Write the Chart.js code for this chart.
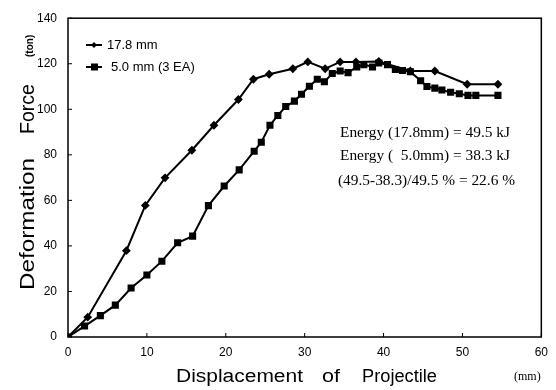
<!DOCTYPE html>
<html>
<head>
<meta charset="utf-8">
<script src="https://cdn.jsdelivr.net/npm/chart.js@4.4.1/dist/chart.umd.min.js"></script>
<style>
    html, body { margin: 0; padding: 0; background: #fff; }
    #wrap { width: 556px; height: 390px; }
</style>
</head>
<body>
<div id="wrap"><canvas id="chart" width="556" height="390"></canvas></div>
<script>
// 17.8 mm plate
const dispThick = [0, 2.5, 7.4, 9.8, 12.3, 15.7, 18.5, 21.6, 23.5, 25.5, 28.5, 30.4, 32.6, 34.5, 36.5, 39.4, 43.4, 46.5, 50.6, 54.5];
const forceThick = [0, 8.7, 37.9, 57.8, 69.9, 82, 93, 104.3, 113.2, 115.4, 117.8, 120.8, 117.8, 120.8, 120.8, 121, 116.8, 116.8, 111, 111];

// 5.0 mm (3 EA)
const dispThin = [0, 2.1, 4.1, 6.0, 8.0, 10.0, 11.9, 13.9, 15.8, 17.8, 19.8, 21.7, 23.6, 24.5, 25.6, 26.6, 27.6, 28.7, 29.6, 30.6, 31.6, 32.5, 33.5, 34.5, 35.5, 36.6, 37.5, 38.6, 39.4, 40.5, 41.5, 42.4, 43.4, 44.7, 45.5, 46.5, 47.4, 48.5, 49.6, 50.7, 51.7, 54.5];
const forceThin = [0, 4.8, 9.4, 14, 21.5, 27.2, 33.3, 41.4, 44.3, 57.7, 66.3, 73.4, 81.6, 85.5, 93, 97.3, 101.2, 103.6, 106.6, 110.1, 113.2, 112.1, 115.7, 116.8, 116.1, 118.6, 119.6, 118.6, 120.3, 119.6, 117.5, 117, 116.5, 112.5, 110, 109.3, 108.5, 107.5, 106.8, 106.1, 106.1, 106.1];

const seriesNames = ['17.8 mm', '5.0 mm (3 EA)'];
const xTicks = [0, 10, 20, 30, 40, 50, 60];
const yTicks = [0, 20, 40, 60, 80, 100, 120, 140];
const notes = ['Energy (17.8mm) = 49.5 kJ', 'Energy (  5.0mm) = 38.3 kJ', '(49.5-38.3)/49.5 % = 22.6 %'];

const toPoints = (xs, ys) => xs.map((x, i) => ({ x: x, y: ys[i] }));

const sans = '"Liberation Sans", Arial, sans-serif';
const serif = '"Liberation Serif", "Times New Roman", serif';

// draw text starting at x, stretched/squeezed to a given width
function fitText(ctx, text, x, y, width) {
    const w = ctx.measureText(text).width;
    ctx.save();
    ctx.translate(x, y);
    ctx.scale(width / w, 1);
    ctx.fillText(text, 0, 0);
    ctx.restore();
}

// frame, inward ticks, titles, legend and note text
const decorations = {
    id: 'decorations',
    afterDraw(chart) {
        const { ctx, chartArea: a, scales } = chart;
        ctx.save();
        ctx.strokeStyle = '#000';
        ctx.lineWidth = 1.5;
        ctx.strokeRect(a.left, a.top, a.right - a.left, a.bottom - a.top);

        ctx.lineWidth = 1;
        xTicks.forEach(v => {
            const px = scales.x.getPixelForValue(v);
            ctx.beginPath(); ctx.moveTo(px, a.bottom); ctx.lineTo(px, a.bottom - 4); ctx.stroke();
        });
        yTicks.forEach(v => {
            const py = scales.y.getPixelForValue(v);
            ctx.beginPath(); ctx.moveTo(a.left, py); ctx.lineTo(a.left + 4, py); ctx.stroke();
        });

        ctx.fillStyle = '#000';
        // x title
        ctx.font = '18px ' + sans;
        ctx.textAlign = 'left';
        ctx.textBaseline = 'alphabetic';
        fitText(ctx, 'Displacement', 176, 382, 127);
        fitText(ctx, 'of', 322, 382, 18);
        fitText(ctx, 'Projectile', 362, 382, 75);
        ctx.font = '12px ' + serif;
        ctx.fillText('(mm)', 514, 380);

        // y title, rotated
        ctx.save();
        ctx.translate(34, 0);
        ctx.rotate(-Math.PI / 2);
        ctx.font = '21px ' + sans;
        ctx.textAlign = 'left';
        fitText(ctx, 'Deformation', -290, 0, 132);
        fitText(ctx, 'Force', -134, 0, 50);
        ctx.font = 'bold 10px ' + sans;
        ctx.fillText('(ton)', -57, -1);
        ctx.restore();

        // legend
        const rows = [
            { y: 45, tx: 107 },
            { y: 67, tx: 111 }
        ];
        rows.forEach((r, i) => {
            ctx.lineWidth = 2;
            ctx.beginPath(); ctx.moveTo(86, r.y); ctx.lineTo(102, r.y); ctx.stroke();
            if (i === 0) {
                ctx.beginPath();
                ctx.moveTo(94, r.y - 3); ctx.lineTo(97, r.y); ctx.lineTo(94, r.y + 3); ctx.lineTo(91, r.y);
                ctx.closePath(); ctx.fill();
            } else {
                ctx.fillRect(91, r.y - 3.5, 7, 7);
            }
            ctx.font = '13px ' + sans;
            ctx.textBaseline = 'middle';
            ctx.fillText(seriesNames[i], r.tx, r.y);
        });

        // energy notes
        ctx.font = '15px ' + serif;
        ctx.textBaseline = 'middle';
        fitText(ctx, notes[0], 340, 133, 170);
        fitText(ctx, notes[1], 340, 156, 170);
        fitText(ctx, notes[2], 338, 181, 177);
        ctx.restore();
    }
};

const chart = new Chart(document.getElementById('chart').getContext('2d'), {
    type: 'scatter',
    data: {
        datasets: [{
            label: seriesNames[0],
            data: toPoints(dispThick, forceThick),
            showLine: true,
            borderColor: '#000',
            backgroundColor: '#000',
            borderWidth: 2,
            pointStyle: 'rectRot',
            pointRadius: 3,
            tension: 0
        }, {
            label: seriesNames[1],
            data: toPoints(dispThin, forceThin),
            showLine: true,
            borderColor: '#000',
            backgroundColor: '#000',
            borderWidth: 2,
            pointStyle: 'rect',
            pointRadius: 3.6,
            tension: 0
        }]
    },
    options: {
        responsive: false,
        animation: false,
        layout: { padding: { top: 9, right: 14, left: 0, bottom: 0 } },
        plugins: { legend: { display: false }, tooltip: { enabled: false } },
        scales: {
            x: {
                type: 'linear',
                min: 0, max: 60,
                afterFit: s => { s.height = 53; },
                afterBuildTicks: s => { s.ticks = xTicks.map(v => ({ value: v })); },
                grid: { display: false, drawTicks: false },
                border: { display: false },
                ticks: { color: '#000', padding: 8, font: { family: sans, size: 12 } }
            },
            y: {
                type: 'linear',
                min: 0, max: 140,
                afterFit: s => { s.width = 68; },
                afterBuildTicks: s => { s.ticks = yTicks.map(v => ({ value: v })); },
                grid: { display: false, drawTicks: false },
                border: { display: false },
                ticks: { color: '#000', padding: 11, font: { family: sans, size: 12 } }
            }
        }
    },
    plugins: [decorations]
});
</script>
</body>
</html>
